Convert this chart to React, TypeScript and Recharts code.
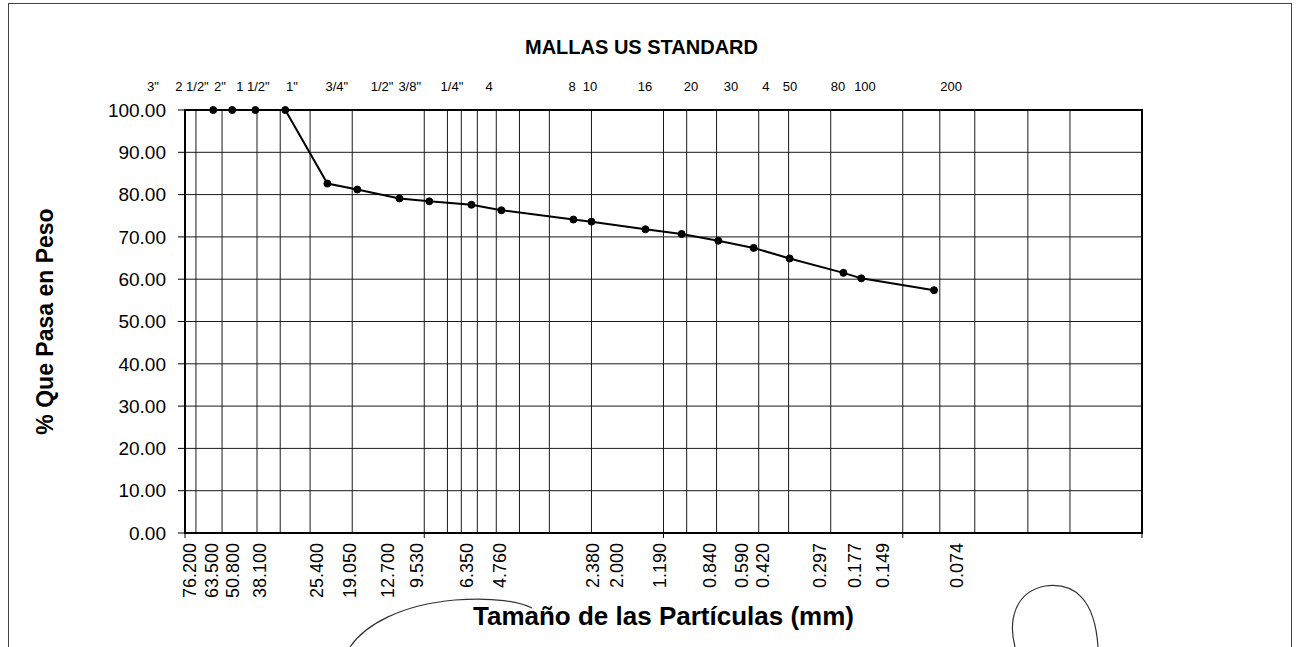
import React from 'react';
import { LineChart, Line, XAxis, YAxis, CartesianGrid, ReferenceArea, Label } from 'recharts';

// Sieve openings (mm) and percent passing
const sieveSizes = [76.2, 63.5, 50.8, 38.1, 25.4, 19.05, 12.7, 9.53, 6.35, 4.76, 2.38, 2.0, 1.19, 0.84, 0.59, 0.42, 0.297, 0.177, 0.149, 0.074];
const percentPassing = [100, 100, 100, 100, 82.6, 81.2, 79.1, 78.4, 77.6, 76.3, 74.1, 73.6, 71.8, 70.7, 69.1, 67.4, 64.9, 61.5, 60.2, 57.4];

// Bottom size labels and where (in mm on the log axis) they sit in the picture
const sizeLabels = ['76.200', '63.500', '50.800', '38.100', '25.400', '19.050', '12.700', '9.530', '6.350', '4.760', '2.380', '2.000', '1.190', '0.840', '0.590', '0.420', '0.297', '0.177', '0.149', '0.074'];
const sizeLabelAt = [95.3, 77.3, 62.8, 48.6, 28.15, 20.43, 14.14, 10.75, 6.65, 4.825, 1.966, 1.569, 1.034, 0.639, 0.471, 0.3826, 0.2218, 0.1583, 0.1206, 0.0595];

// Top US standard mesh labels and their positions (mm on the log axis)
const meshLabels = ['3"', '2 1/2"', '2"', '1 1/2"', '1"', '3/4"', '1/2"', '3/8"', '1/4"', '4', '8', '10', '16', '20', '30', '4', '50', '80', '100', '200'];
const meshLabelAt = [136.1, 93.5, 71.4, 52.0, 35.7, 23.2, 15.0, 11.5, 7.66, 5.36, 2.41, 2.03, 1.195, 0.767, 0.522, 0.373, 0.296, 0.1865, 0.1438, 0.0628];

// Log grid lines
const gridSizes = [100, 90, 80, 70, 60, 50, 40, 30, 20, 10, 9, 8, 7, 6, 5, 4, 3, 2, 1, 0.9, 0.8, 0.7, 0.6, 0.5, 0.4, 0.3, 0.2, 0.1, 0.09, 0.08, 0.07, 0.06, 0.05, 0.04, 0.03, 0.02, 0.01];
const decadeTicks = [100, 10, 1, 0.1, 0.01];
const yTicks = [0, 10, 20, 30, 40, 50, 60, 70, 80, 90, 100];

const FONT = '"Liberation Sans", Arial, sans-serif';

const data = sieveSizes.map((s, i) => ({ size: s, pass: percentPassing[i] }));

const MeshTick = (props: any) => {
  const { x, y, payload } = props;
  const i = meshLabelAt.indexOf(payload.value);
  return (
    <text x={x} y={y} textAnchor="middle" dominantBaseline="central" fontSize={13} fontFamily={FONT} fill="#000">
      {meshLabels[i]}
    </text>
  );
};

const SizeTick = (props: any) => {
  const { x, y, payload } = props;
  const i = sizeLabelAt.indexOf(payload.value);
  return (
    <text x={x} y={y} transform={`rotate(-90, ${x}, ${y})`} textAnchor="end" dominantBaseline="central" fontSize={18} fontFamily={FONT} fill="#000">
      {sizeLabels[i]}
    </text>
  );
};

export default function App() {
  return (
    <div style={{ position: 'absolute', left: 0, top: 0, width: 1299, height: 647, background: '#fff', overflow: 'hidden', fontFamily: FONT }}>
      <LineChart width={1299} height={647} data={data} margin={{ top: 80, right: 157, bottom: 19, left: 20 }}>
        <XAxis
          xAxisId={0}
          type="number"
          dataKey="size"
          scale="log"
          domain={[0.01, 100]}
          reversed
          allowDataOverflow
          ticks={decadeTicks}
          interval={0}
          tickFormatter={() => ''}
          tickSize={5}
          tickLine={{ stroke: '#000' }}
          axisLine={false}
          height={5}
        />
        <XAxis
          xAxisId="sizes"
          type="number"
          dataKey="size"
          scale="log"
          domain={[0.01, 100]}
          reversed
          allowDataOverflow
          ticks={sizeLabelAt}
          interval={0}
          tick={<SizeTick />}
          tickSize={0}
          tickMargin={5}
          tickLine={false}
          axisLine={false}
          height={90}
        >
          <Label
            content={(p: any) => (
              <text
                x={p.viewBox.x + p.viewBox.width / 2}
                y={p.viewBox.y + 78}
                textAnchor="middle"
                dominantBaseline="central"
                fontSize={26}
                fontWeight="bold"
                fontFamily={FONT}
                fill="#000"
              >
                Tamaño de las Partículas (mm)
              </text>
            )}
          />
        </XAxis>
        <XAxis xAxisId="grid" type="number" dataKey="size" scale="log" domain={[0.01, 100]} reversed allowDataOverflow ticks={gridSizes} hide height={0} />
        <XAxis
          xAxisId="mesh"
          orientation="top"
          type="number"
          dataKey="size"
          scale="log"
          domain={[0.01, 100]}
          reversed
          allowDataOverflow
          ticks={meshLabelAt}
          interval={0}
          tick={<MeshTick />}
          tickSize={0}
          tickMargin={24}
          tickLine={false}
          axisLine={false}
          height={30}
        >
          <Label
            content={(p: any) => (
              <text
                x={p.viewBox.x + p.viewBox.width / 2 - 22}
                y={p.viewBox.y - 33}
                textAnchor="middle"
                dominantBaseline="central"
                fontSize={20}
                fontWeight="bold"
                fontFamily={FONT}
                fill="#000"
              >
                MALLAS US STANDARD
              </text>
            )}
          />
        </XAxis>
        <YAxis
          type="number"
          domain={[0, 100]}
          ticks={yTicks}
          interval={0}
          width={165}
          tickFormatter={(v: number) => v.toFixed(2)}
          tick={{ fontSize: 19, fill: '#000', fontFamily: FONT }}
          tickSize={7}
          tickMargin={12}
          tickLine={{ stroke: '#000' }}
          axisLine={false}
        >
          <Label
            content={(p: any) => {
              const cx = p.viewBox.x + 25;
              const cy = p.viewBox.y + p.viewBox.height / 2;
              return (
                <text
                  x={cx}
                  y={cy}
                  transform={`rotate(-90, ${cx}, ${cy})`}
                  textAnchor="middle"
                  dominantBaseline="central"
                  fontSize={23}
                  fontWeight="bold"
                  fontFamily={FONT}
                  fill="#000"
                >
                  % Que Pasa en Peso
                </text>
              );
            }}
          />
        </YAxis>
        <CartesianGrid xAxisId="grid" stroke="#1a1a1a" strokeWidth={1} fill="none" />
        <ReferenceArea x1={100} x2={0.01} y1={0} y2={100} fill="none" stroke="#000" strokeWidth={2} ifOverflow="visible" />
        <Line
          type="linear"
          dataKey="pass"
          stroke="#000"
          strokeWidth={2}
          dot={{ r: 3.5, fill: '#000', stroke: '#000', strokeWidth: 1 }}
          activeDot={false}
          isAnimationActive={false}
        />
      </LineChart>
      <div style={{ position: 'absolute', left: 8, top: 3, width: 1282, height: 700, borderLeft: '1px solid #444', borderTop: '1px solid #444', borderRight: '1px solid #444', pointerEvents: 'none' }} />
      <svg width={1299} height={647} style={{ position: 'absolute', left: 0, top: 0, pointerEvents: 'none' }}>
        <path d="M350,647 C365,625 400,605 455,600 C495,597 520,602 532,608" fill="none" stroke="#333" strokeWidth={1.2} />
        <path d="M1015,647 C1008,620 1015,592 1045,586 C1075,582 1095,600 1098,647" fill="none" stroke="#333" strokeWidth={1.2} />
      </svg>
    </div>
  );
}
